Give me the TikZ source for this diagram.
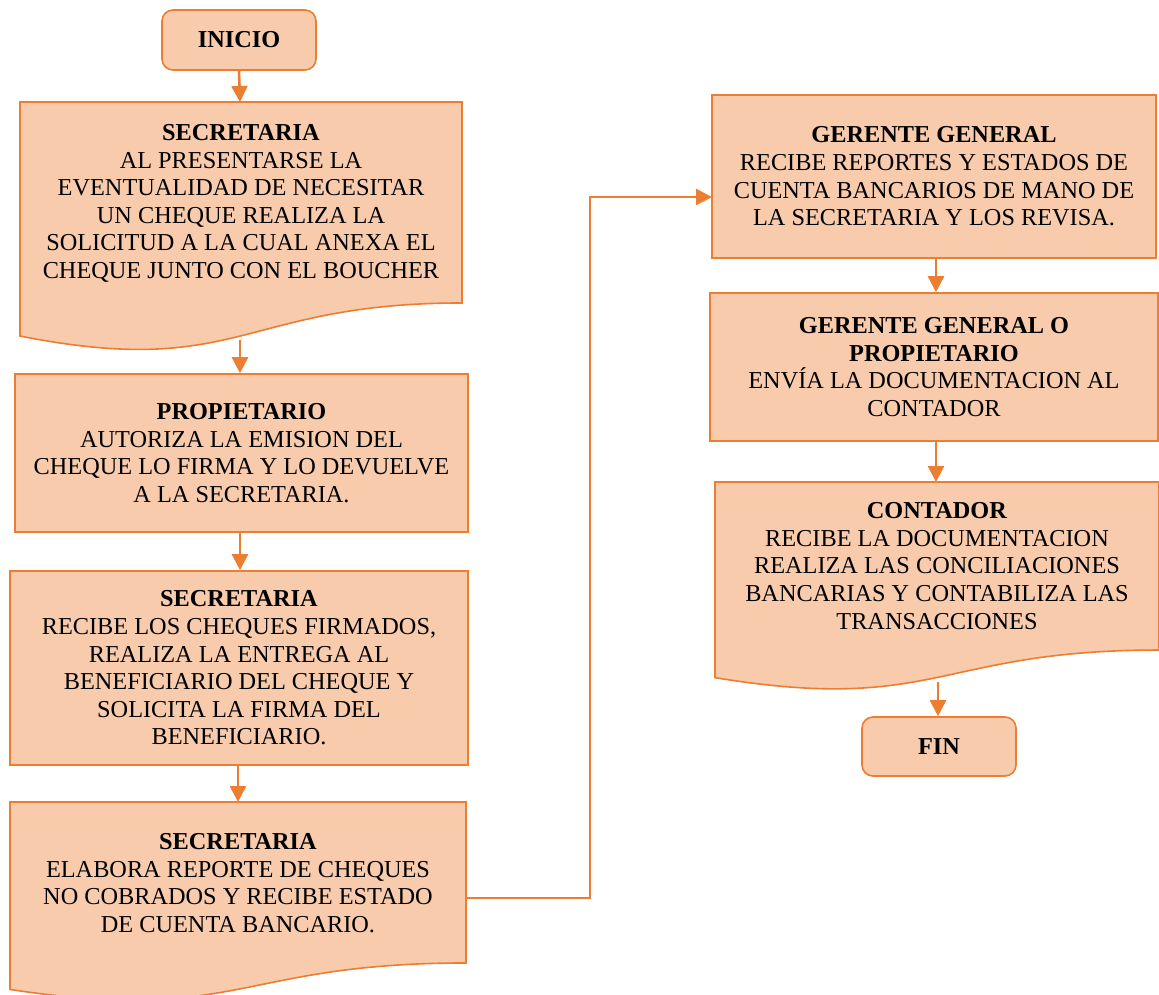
\documentclass[tikz,border=0pt]{standalone}
\usepackage{fontspec}
\setmainfont{Liberation Serif}
\usetikzlibrary{arrows.meta,calc}
\definecolor{peach}{HTML}{F7CBAC}
\definecolor{edge}{HTML}{ED7D31}
\newcommand{\bodyfont}{\fontsize{24.3}{27.6}\selectfont}
% flowchart "document" outline: left, top, width, height
\newcommand{\docpath}[4]{%
  \draw[docbox] (#1,#2) -- ({#1+#3},#2) -- ({#1+#3},{#2+0.802*#4})
    .. controls ({#1+0.5*#3},{#2+0.802*#4}) and ({#1+0.5*#3},{#2+1.1076*#4})
    .. (#1,{#2+0.9339*#4}) -- cycle;}
\tikzset{
  docbox/.style={draw=edge, fill=peach, line width=1.6pt},
  card/.style={draw=edge, fill=peach, line width=1.6pt, inner sep=0pt,
    align=center, font=\bodyfont},
  term/.style={card, rounded corners=11pt},
  label/.style={align=center, font=\bodyfont, inner sep=0pt},
  flow/.style={draw=edge, line width=2.6pt, -{Triangle[width=16pt,length=16pt]}}
}
\begin{document}
\begin{tikzpicture}[x=1pt,y=-1pt]
\useasboundingbox (0,0) rectangle (1159,994);

% left column
\node[term, minimum width=154pt, minimum height=60pt] (ini) at (239,40) {\textbf{INICIO}};

\docpath{20}{102}{442}{250.6}
\coordinate (d1top) at (240,102);
\coordinate (d1bot) at (240,340);
\node[label] (d1) at (241,203.5) {\textbf{SECRETARIA}\\AL PRESENTARSE LA\\EVENTUALIDAD DE NECESITAR\\UN CHEQUE REALIZA LA\\SOLICITUD A LA CUAL ANEXA EL\\CHEQUE JUNTO CON EL BOUCHER};

\node[card, minimum width=453pt, minimum height=158pt] (prop) at (241.5,453)
  {\textbf{PROPIETARIO}\\AUTORIZA LA EMISION DEL\\CHEQUE LO FIRMA Y LO DEVUELVE\\A LA SECRETARIA.};

\node[card, minimum width=458pt, minimum height=194pt] (sec2) at (239,668)
  {\textbf{SECRETARIA}\\RECIBE LOS CHEQUES FIRMADOS,\\REALIZA LA ENTREGA AL\\BENEFICIARIO DEL CHEQUE Y\\SOLICITA LA FIRMA DEL\\BENEFICIARIO.};

\docpath{10}{802}{456}{200.7}
\coordinate (d3top) at (238,802);
\coordinate (d3out) at (466,898);
\node[label] (d3) at (238,883) {\textbf{SECRETARIA}\\ELABORA REPORTE DE CHEQUES\\NO COBRADOS Y RECIBE ESTADO\\DE CUENTA BANCARIO.};

% right column
\node[card, minimum width=444pt, minimum height=163pt] (ger) at (934,176.5)
  {\textbf{GERENTE GENERAL}\\RECIBE REPORTES Y ESTADOS DE\\CUENTA BANCARIOS DE MANO DE\\LA SECRETARIA Y LOS REVISA.};
\coordinate (gerin) at (712,197);

\node[card, minimum width=448pt, minimum height=148pt] (ger2) at (934,367)
  {\textbf{GERENTE GENERAL O}\\\textbf{PROPIETARIO}\\ENVÍA LA DOCUMENTACION AL\\CONTADOR};

\docpath{715}{482}{444}{209.5}
\coordinate (d4top) at (936,482);
\coordinate (d4bot) at (938,682);
\node[label] (d4) at (937,566) {\textbf{CONTADOR}\\RECIBE LA DOCUMENTACION\\REALIZA LAS CONCILIACIONES\\BANCARIAS Y CONTABILIZA LAS\\TRANSACCIONES};

\node[term, minimum width=154pt, minimum height=59pt] (fin) at (939,746.5) {\textbf{FIN}};

% connectors
\draw[flow] (ini.south) -- (d1top);
\draw[flow] (d1bot) -- (d1bot |- prop.north);
\draw[flow] (prop.south -| d1bot) -- (d1bot |- sec2.north);
\draw[flow] (sec2.south -| d3top) -- (d3top);
\draw[flow] (d3out) -- (590,898) -- (590,197) -- (gerin);
\draw[flow] (ger.south -| d4top) -- (d4top |- ger2.north);
\draw[flow] (ger2.south -| d4top) -- (d4top);
\draw[flow] (d4bot) -- (d4bot |- fin.north);
\end{tikzpicture}
\end{document}
